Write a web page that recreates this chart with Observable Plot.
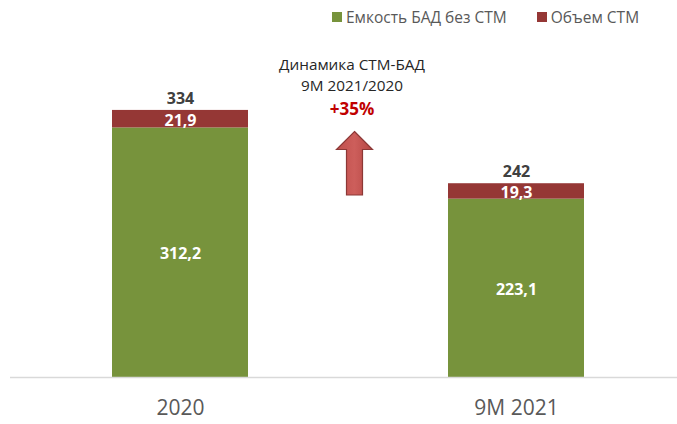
<!DOCTYPE html>
<html>
<head>
<meta charset="utf-8">
<script src="https://cdn.jsdelivr.net/npm/d3@7"></script>
<script src="https://cdn.jsdelivr.net/npm/@observablehq/plot@0.6"></script>
<style>
  html, body { margin: 0; padding: 0; background: #fff; }
  #wrap { position: relative; width: 677px; height: 424px; font-family: "Open Sans", sans-serif; overflow: hidden; }
  #chart { position: absolute; left: 0; top: 0; }
  .legend { position: absolute; top: 7px; left: 332px; display: flex; align-items: center; font-size: 15.5px; color: #595959; white-space: nowrap; line-height: 20px; }
  .legend .sw { display: inline-block; width: 10px; height: 10px; margin-right: 4px; }
  .legend .item { display: flex; align-items: center; margin-right: 30px; }
  .note { position: absolute; left: 252px; width: 200px; text-align: center; font-size: 15.3px; color: #262626; line-height: 20px; white-space: nowrap; }
  .note.pct { color: #c00000; font-weight: bold; font-size: 17px; line-height: 22px; }
  #arrow { position: absolute; left: 333px; top: 129px; }
</style>
</head>
<body>
<div id="wrap">
  <div id="chart"></div>
  <div class="legend" id="legend"></div>
  <div class="note" id="note1" style="top:54px;"></div>
  <div class="note" id="note2" style="top:74.5px;"></div>
  <div class="note pct" id="pct" style="top:98px;"></div>
  <svg id="arrow" width="44" height="70" viewBox="0 0 44 70">
    <defs>
      <linearGradient id="ag" x1="0" x2="1" y1="0" y2="0">
        <stop offset="0" stop-color="#c0504d"/>
        <stop offset="0.5" stop-color="#cd5e5b"/>
        <stop offset="1" stop-color="#b54744"/>
      </linearGradient>
    </defs>
    <path d="M21.5 2.5 L39.5 20.5 L29.5 20.5 L29.5 66 L13.5 66 L13.5 20.5 L3.5 20.5 Z" fill="url(#ag)" stroke="#8c3836" stroke-width="1.2"/>
  </svg>
</div>
<script>
const categories = ["2020", "9M 2021"];
const seriesNames = ["Емкость БАД без СТМ", "Объем СТМ"];
const seriesColors = ["#77933c", "#953735"];
const baseValues = [312.2, 223.1];   // Емкость БАД без СТМ
const stmValues = [21.9, 19.3];      // Объем СТМ
const totals = [334, 242];
const noteLines = ["Динамика СТМ-БАД", "9M 2021/2020"];
const growthLabel = "+35%";

const data = [];
categories.forEach((c, i) => {
  data.push({cat: c, series: seriesNames[0], value: baseValues[i]});
  data.push({cat: c, series: seriesNames[1], value: stmValues[i]});
});
const totalData = categories.map((c, i) => ({cat: c, total: totals[i]}));
const fmt = v => v.toFixed(1).replace(".", ",");

const plot = Plot.plot({
  width: 677,
  height: 424,
  marginTop: 110,
  marginBottom: 47,
  marginLeft: 10,
  marginRight: 0,
  style: {fontFamily: "'Open Sans', sans-serif", background: "transparent"},
  x: {domain: categories, range: [10, 685], paddingInner: 0.596, paddingOuter: 0.3, label: null},
  y: {domain: [0, 334], axis: null},
  color: {domain: seriesNames, range: seriesColors},
  marks: [
    Plot.barY(data, {x: "cat", y: "value", fill: "series", order: null}),
    Plot.ruleY([0], {stroke: "#d9d9d9", strokeWidth: 1.5}),
    Plot.text(data, Plot.stackY({x: "cat", y: "value", order: null, text: d => fmt(d.value), fill: "white", fontWeight: "bold", fontSize: 16, dy: 1.5})),
    Plot.text(totalData, {x: "cat", y: "total", text: d => String(d.total), dy: -12, fill: "#404040", fontWeight: "bold", fontSize: 16}),
    Plot.axisX({tickSize: 0, tickPadding: 23, fontSize: 21, color: "#595959", label: null})
  ]
});
document.getElementById("chart").appendChild(plot);

const legend = document.getElementById("legend");
seriesNames.forEach((n, i) => {
  const item = document.createElement("div");
  item.className = "item";
  item.innerHTML = `<span class="sw" style="background:${seriesColors[i]}"></span>${n}`;
  legend.appendChild(item);
});
document.getElementById("note1").textContent = noteLines[0];
document.getElementById("note2").textContent = noteLines[1];
document.getElementById("pct").textContent = growthLabel;
</script>
</body>
</html>
